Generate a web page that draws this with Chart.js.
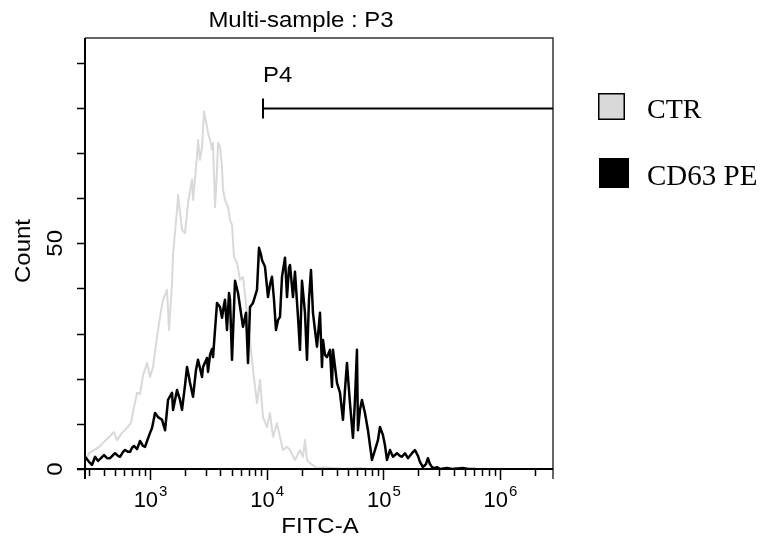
<!DOCTYPE html>
<html>
<head>
<meta charset="utf-8">
<script src="https://cdn.jsdelivr.net/npm/chart.js@4/dist/chart.umd.min.js"></script>
<style>
  body { margin: 0; background: #fff; }
  #wrap { width: 764px; height: 548px; }
</style>
</head>
<body>
<div id="wrap"><canvas id="myChart" width="764" height="548"></canvas></div>
<script>
// CTR histogram (FITC-A value, count)
const ctrFitc = [277, 300, 331, 366, 403, 445, 491, 521, 575, 635, 687, 729, 774, 821, 871, 943,
  1000, 1061, 1148, 1218, 1292, 1399, 1455, 1544, 1574, 1704, 1738, 1880, 1995, 2117, 2290, 2336,
  2527, 2578, 2682, 2790, 2902, 3079, 3141, 3266, 3399, 3466, 3606, 3751, 3825, 3979, 4140, 4222,
  4392, 4660, 4847, 5043, 5245, 5566, 5906, 6265, 6779, 7194, 7631, 8259, 8763, 9297, 10060, 10670,
  11330, 12250, 13000, 13800, 14930, 15840, 17480, 19290, 20470, 21290, 22150, 23500, 26980, 30370,
  36990, 46880, 63020, 76780];
const ctrCount = [1.6, 3.5, 4.2, 4.9, 6.0, 7.1, 8.2, 6.4, 8.0, 9.1, 10.2, 13.7, 16.9, 16.6, 20.8, 23.5,
  20.4, 22.6, 29.3, 33.7, 37.5, 39.7, 30.8, 41.2, 47.5, 57.4, 60.8, 53.0, 52.3, 59.0, 64.1, 59.6,
  69.2, 72.9, 68.5, 71.4, 79.2, 75.8, 74.5, 72.9, 70.7, 72.3, 58.0, 66.3, 72.3, 71.4, 67.0, 61.9,
  59.6, 58.1, 55.2, 54.1, 47.0, 45.7, 41.9, 42.6, 34.6, 28.6, 22.0, 14.6, 19.7, 11.5, 9.3, 12.4,
  7.1, 10.2, 7.1, 4.2, 4.9, 4.2, 2.0, 4.2, 2.7, 6.4, 2.0, 1.3, 0.2, 0.4,
  0.2, 0, 0.2, 0];

// CD63 PE histogram (FITC-A value, count)
const cd63Fitc = [277, 300, 318, 338, 358, 380, 403, 428, 454, 482, 501, 532, 553, 587, 611, 648,
  674, 701, 729, 774, 821, 871, 906, 943, 1000, 1040, 1104, 1171, 1267, 1345, 1427, 1544,
  1574, 1704, 1808, 1880, 1995, 2075, 2202, 2336, 2479, 2578, 2790, 2846, 3079, 3141, 3266, 3399,
  3466, 3606, 3751, 3979, 4140, 4307, 4392, 4568, 4753, 4847, 5043, 5350, 5677, 6143, 6265, 6647,
  6916, 7194, 7631, 8259, 8590, 8938, 9115, 9670, 10260, 10670, 11100, 11550, 12010, 12500, 13000, 13530,
  14350, 14930, 15530, 15840, 16800, 17480, 18550, 19290, 20070, 21290, 22150, 23040, 23970, 24930, 25940, 26980,
  28620, 29780, 30370, 31590, 32860, 34860, 36270, 36990, 40040, 42480, 45070, 46880, 48760, 51730, 54880, 57100,
  59390, 60580, 63020, 65550, 69550, 73790, 76780, 79860, 84730, 89880, 93520, 99220, 103200, 107400, 113900, 120900,
  130800, 138800, 144300, 153200, 162500, 175900, 186600, 198000, 205900, 218500, 231700, 241100, 250800, 261000, 276800, 288000,
  305500, 350800, 387000, 481000, 531000, 610000];
const cd63Count = [2.7, 1.6, 0.9, 2.7, 1.8, 2.4, 3.1, 2.4, 2.4, 3.1, 3.5, 2.9, 2.7, 3.8, 4.2, 3.8,
  3.8, 4.7, 5.1, 4.4, 6.2, 5.1, 4.9, 6.2, 8.0, 9.1, 12.4, 11.5, 10.9, 8.6, 15.3, 16.9,
  13.1, 17.5, 15.3, 13.1, 18.6, 22.6, 19.1, 16.0, 22.0, 24.2, 20.4, 22.6, 24.6, 21.5, 25.3, 26.6,
  24.8, 30.8, 36.8, 35.9, 33.5, 36.4, 37.5, 30.8, 39.0, 37.5, 24.2, 41.7, 39.0, 33.0, 31.5, 34.6,
  23.5, 35.9, 36.8, 39.7, 49.0, 47.5, 46.3, 44.8, 38.1, 40.8, 42.6, 37.5, 30.8, 33.0, 33.7, 42.6,
  46.8, 38.1, 44.6, 45.2, 38.1, 43.7, 33.7, 26.4, 41.7, 34.6, 24.2, 37.5, 44.1, 34.6, 30.8, 27.1,
  34.6, 22.6, 28.6, 25.3, 24.8, 26.4, 18.2, 26.4, 19.1, 16.9, 10.9, 17.5, 23.5, 14.6, 6.9, 15.3,
  26.4, 8.6, 13.1, 15.3, 12.4, 8.6, 5.3, 2.0, 4.2, 6.4, 9.3, 7.5, 5.3, 2.0, 4.2, 2.7,
  3.5, 2.9, 2.7, 3.5, 2.4, 3.5, 4.2, 2.9, 1.6, 0.4, 1.1, 2.4, 1.1, 0.4, 0.2, 0.4,
  0, 0.2, 0, 0.2, 0, 0];

// axes
const xMin = 277;
const xMax = 2846000;
const yMax = 95.5;
const yTickStep = 10;
const yTickLabels = [0, 50];
const xLabelDecades = [3, 4, 5, 6];

// P4 gate
const gateLabel = "P4";
const gateStart = 9300;
const gateLevel = 80;

const sans = '"Liberation Sans", Arial, sans-serif';
const serif = '"Liberation Serif", "Times New Roman", serif';

// draw text a little wider than the font, like the source export
function wideText(ctx, text, x, y, angle) {
  ctx.save();
  ctx.translate(x, y);
  if (angle) ctx.rotate(angle);
  ctx.scale(1.09, 1);
  ctx.fillText(text, 0, 0);
  ctx.restore();
}

const histDecor = {
  id: "histDecor",
  afterDraw(chart) {
    const { ctx, chartArea: a, scales } = chart;
    const x = scales.x, y = scales.y;
    ctx.save();

    // frame (top / right)
    ctx.strokeStyle = "#333";
    ctx.lineWidth = 1.5;
    ctx.beginPath();
    ctx.moveTo(a.left, a.top);
    ctx.lineTo(a.right, a.top);
    ctx.lineTo(a.right, a.bottom + 10);
    ctx.stroke();

    // axis lines
    ctx.strokeStyle = "#000";
    ctx.lineWidth = 2;
    ctx.beginPath();
    ctx.moveTo(a.left, a.top);
    ctx.lineTo(a.left, a.bottom + 10);
    ctx.moveTo(a.left - 8, a.bottom);
    ctx.lineTo(a.right, a.bottom);
    ctx.stroke();

    // y ticks
    ctx.lineWidth = 1.5;
    ctx.beginPath();
    for (let v = 0; v <= yMax; v += yTickStep) {
      const py = Math.round(y.getPixelForValue(v)) + 0.5;
      ctx.moveTo(a.left - 8, py);
      ctx.lineTo(a.left, py);
    }
    ctx.stroke();

    // x ticks (decades long, others short)
    ctx.beginPath();
    for (let e = 2; e <= 6; e++) {
      for (let m = 1; m <= 9; m++) {
        const v = m * Math.pow(10, e);
        if (v < x.min || v > x.max) continue;
        const px = Math.round(x.getPixelForValue(v)) + 0.5;
        ctx.moveTo(px, a.bottom);
        ctx.lineTo(px, a.bottom + (m === 1 ? 11 : 7));
      }
    }
    ctx.stroke();

    // x tick labels 10^n
    ctx.fillStyle = "#000";
    ctx.textBaseline = "alphabetic";
    xLabelDecades.forEach((e) => {
      const px = x.getPixelForValue(Math.pow(10, e));
      ctx.font = "22px " + sans;
      const w1 = ctx.measureText("10").width;
      ctx.font = "15px " + sans;
      const w2 = ctx.measureText(String(e)).width;
      const left = px - (w1 + w2) / 2;
      ctx.font = "22px " + sans;
      ctx.textAlign = "left";
      ctx.fillText("10", left, 507);
      ctx.font = "15px " + sans;
      ctx.fillText(String(e), left + w1 + 1, 496);
    });

    // y tick labels (rotated)
    ctx.font = "22px " + sans;
    ctx.textAlign = "center";
    ctx.textBaseline = "middle";
    yTickLabels.forEach((v) => {
      wideText(ctx, String(v), 56, y.getPixelForValue(v), -Math.PI / 2);
    });

    // axis titles
    wideText(ctx, "Count", 24, 251, -Math.PI / 2);
    ctx.textBaseline = "alphabetic";
    wideText(ctx, "FITC-A", 320, 533);

    // chart title
    wideText(ctx, "Multi-sample : P3", 301, 27);

    // gate
    const gx = x.getPixelForValue(gateStart);
    const gy = Math.round(y.getPixelForValue(gateLevel)) + 0.5;
    ctx.lineWidth = 2;
    ctx.beginPath();
    ctx.moveTo(gx, gy - 10);
    ctx.lineTo(gx, gy + 10);
    ctx.moveTo(gx, gy);
    ctx.lineTo(a.right, gy);
    ctx.stroke();
    ctx.textAlign = "left";
    wideText(ctx, gateLabel, gx, 82);

    // legend
    const items = [
      { ds: chart.data.datasets[1], x: 598, y: 93, s: 27, ty: 118, size: 28 },
      { ds: chart.data.datasets[0], x: 599, y: 158, s: 30, ty: 185, size: 29 }
    ];
    items.forEach((it) => {
      ctx.fillStyle = it.ds.legendFill;
      ctx.fillRect(it.x, it.y, it.s, it.s);
      ctx.strokeStyle = "#000";
      ctx.lineWidth = 1.5;
      ctx.strokeRect(it.x + 0.75, it.y + 0.75, it.s - 1.5, it.s - 1.5);
      ctx.fillStyle = "#000";
      ctx.font = it.size + "px " + serif;
      ctx.fillText(it.ds.label, 647, it.ty);
    });

    ctx.restore();
  }
};

new Chart("myChart", {
  type: "line",
  data: {
    datasets: [
      {
        label: "CD63 PE",
        data: cd63Fitc.map((v, i) => ({ x: v, y: cd63Count[i] })),
        borderColor: "#000",
        legendFill: "#000",
        borderWidth: 2.5,
        borderJoinStyle: "round",
        pointRadius: 0,
        tension: 0,
        order: 1
      },
      {
        label: "CTR",
        data: ctrFitc.map((v, i) => ({ x: v, y: ctrCount[i] })),
        borderColor: "#d9d9d9",
        legendFill: "#d9d9d9",
        borderWidth: 2,
        borderJoinStyle: "round",
        pointRadius: 0,
        tension: 0,
        order: 2
      }
    ]
  },
  options: {
    responsive: false,
    animation: false,
    devicePixelRatio: 1,
    layout: { padding: { top: 38, right: 211, left: 0, bottom: 0 } },
    plugins: {
      legend: { display: false },
      title: { display: false },
      tooltip: { enabled: false }
    },
    scales: {
      x: {
        type: "logarithmic",
        min: xMin,
        max: xMax,
        grid: { display: false },
        border: { display: false },
        ticks: { display: false },
        afterFit: (s) => { s.height = 79; }
      },
      y: {
        min: 0,
        max: yMax,
        grid: { display: false },
        border: { display: false },
        ticks: { display: false },
        afterFit: (s) => { s.width = 85; }
      }
    }
  },
  plugins: [histDecor]
});
</script>
</body>
</html>
